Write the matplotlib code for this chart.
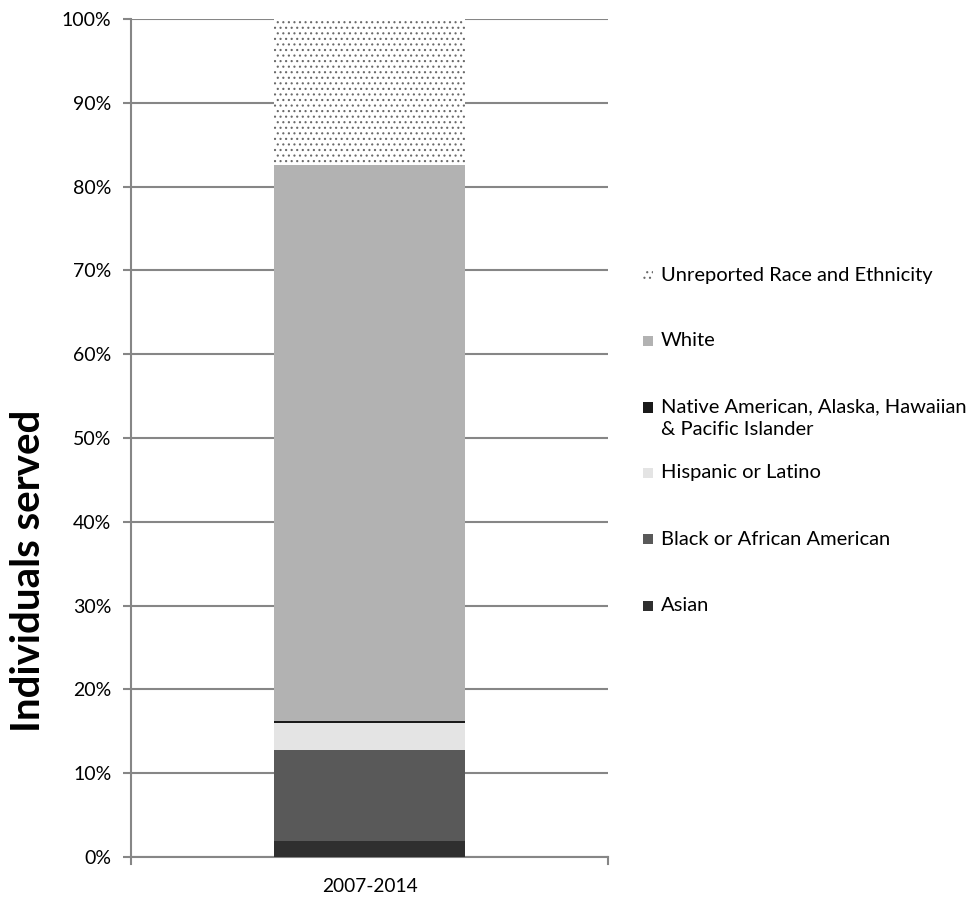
import matplotlib.pyplot as plt
from matplotlib.patches import Rectangle

plt.rcParams['font.family'] = ['Lato', 'DejaVu Sans']
plt.rcParams['hatch.linewidth'] = 0.8

# data (share of individuals served, %)
period = ["2007-2014"]
groups = ["Asian", "Black or African American", "Hispanic or Latino",
          "Native American, Alaska, Hawaiian\n& Pacific Islander", "White",
          "Unreported Race and Ethnicity"]
shares = [1.9, 10.9, 3.2, 0.2, 66.4, 17.4]
colors = ["#2f2f2f", "#595959", "#e4e4e4", "#1a1a1a", "#b2b2b2", "white"]
hatches = [None, None, None, None, None, "..."]
yticks = list(range(0, 101, 10))

fig = plt.figure(figsize=(9.7, 8.97), dpi=100)
ax = fig.add_axes([0.135, 0.0446, 0.492, 0.9342])

bottom = 0
for g, s, c, h in zip(groups, shares, colors, hatches):
    ax.bar(0, s, width=0.4, bottom=bottom, color=c, hatch=h,
           edgecolor="#6a6a6a" if h else c, linewidth=0, zorder=3)
    bottom += s

ax.set_xlim(-0.5, 0.5)
ax.set_ylim(0, 100)
ax.set_yticks(yticks)
ax.set_yticklabels([f"{t}%" for t in yticks], fontsize=14)
ax.set_xticks([0])
ax.set_xticklabels(period, fontsize=13.8)
ax.tick_params(axis='x', length=0, pad=15)
ax.tick_params(axis='y', length=6, color="#868686", width=1.5, pad=8)
ax.yaxis.grid(True, color="#868686", linewidth=1.5, zorder=0)
for sp in ["top", "right"]:
    ax.spines[sp].set_visible(False)
for sp in ["left", "bottom"]:
    ax.spines[sp].set_color("#868686")
    ax.spines[sp].set_linewidth(1.5)
# category axis end ticks
for xe in (-0.5, 0.5):
    ax.plot([xe, xe], [0, -0.8], color="#868686", lw=1.5, clip_on=False)

fig.text(0.029, 0.364, "Individuals served", fontsize=29, fontweight="bold",
         rotation=90, ha="center", va="center")

# legend, top entry is last series
leg_y = [0.693, 0.620, 0.546, 0.473, 0.399, 0.325]
for (g, c, h), y in zip(list(zip(groups, colors, hatches))[::-1], leg_y):
    fig.patches.append(Rectangle((0.663, y - 0.006), 0.0105, 0.0115,
                                 transform=fig.transFigure, facecolor=c,
                                 hatch=h, edgecolor="#6a6a6a" if h else c,
                                 linewidth=0))
    fig.text(0.681, y + 0.0095, g, fontsize=14.5, va="top", ha="left",
             linespacing=1.35)

fig.savefig("out.png", dpi=100)
